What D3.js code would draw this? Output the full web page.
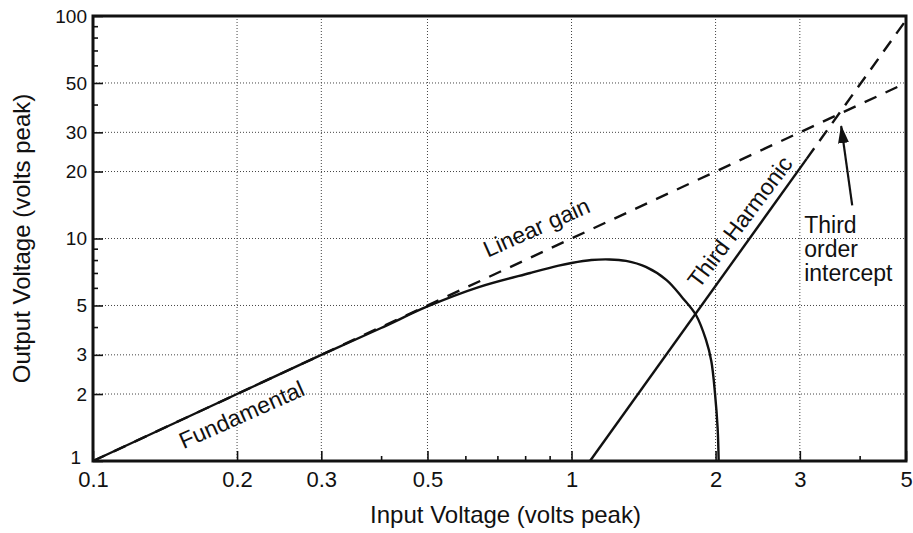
<!DOCTYPE html>
<html>
<head>
<meta charset="utf-8">
<script src="https://cdn.jsdelivr.net/npm/d3@7"></script>
<style>
  body { margin: 0; background: #fff; }
  text { font-family: "Liberation Sans", Arial, Helvetica, sans-serif; fill: #111; }
</style>
</head>
<body>
<div id="chart"></div>
<script>

// tick values and labels
var xTicks = [0.1, 0.2, 0.3, 0.5, 1, 2, 3, 5];
var xTickLabels = ["0.1", "0.2", "0.3", "0.5", "1", "2", "3", "5"];
var yTicks = [1, 2, 3, 5, 10, 20, 30, 50, 100];
var yTickLabels = ["1", "2", "3", "5", "10", "20", "30", "50", "100"];
var xMinor = [0.4, 0.6, 0.7, 0.8, 0.9, 4];
var yMinor = [4, 6, 7, 8, 9, 40, 60, 70, 80, 90];
var xGrid = [0.2, 0.3, 0.5, 1, 2, 3];
var yGrid = [2, 3, 5, 10, 20, 30, 50];

// series
var linearX = [0.1, 5];
var linearY = [1, 50];
var fundX = [0.1, 0.2, 0.3, 0.4, 0.5, 0.64, 0.82, 0.94, 1.0, 1.1, 1.2, 1.3, 1.43, 1.58, 1.7, 1.82, 1.91, 1.96, 1.995, 2.02, 2.03];
var fundY = [1, 2, 3, 3.96, 4.95, 6.05, 7.0, 7.55, 7.76, 8.0, 8.05, 7.93, 7.45, 6.5, 5.46, 4.53, 3.5, 2.8, 2.0, 1.4, 1.0];
var harmSolidX = [1.093, 3.1];
var harmSolidY = [1, 22.8];
var harmDashX = [3.1, 5];
var harmDashY = [22.8, 95.8];

// set the dimensions and margins of the graph
var margin = {top: 16, right: 7, bottom: 72, left: 93},
    width = 913 - margin.left - margin.right,
    height = 533 - margin.top - margin.bottom;

var svg = d3.select("#chart")
  .append("svg")
    .attr("width", width + margin.left + margin.right)
    .attr("height", height + margin.top + margin.bottom)
  .append("g")
    .attr("transform", "translate(" + margin.left + "," + margin.top + ")");

var x = d3.scaleLog().domain([0.1, 5]).range([0, width]);
var y = d3.scaleLog().domain([1, 100]).range([height, 0]);

// dotted grid
svg.append("g").selectAll("line")
  .data(xGrid).enter().append("line")
    .attr("x1", function(d) { return x(d); })
    .attr("x2", function(d) { return x(d); })
    .attr("y1", 0).attr("y2", height)
    .style("stroke", "#444").style("stroke-width", 1).style("stroke-dasharray", "1,2");
svg.append("g").selectAll("line")
  .data(yGrid).enter().append("line")
    .attr("y1", function(d) { return y(d); })
    .attr("y2", function(d) { return y(d); })
    .attr("x1", 0).attr("x2", width)
    .style("stroke", "#444").style("stroke-width", 1).style("stroke-dasharray", "1,2");

// axes (ticks point inward)
var xAxis = svg.append("g")
  .attr("transform", "translate(0," + height + ")")
  .call(d3.axisBottom(x).tickValues(xTicks).tickSize(-10).tickPadding(10)
    .tickFormat(function(d, i) { return xTickLabels[i]; }));
xAxis.selectAll("text").style("font-size", "22px");

var yAxis = svg.append("g")
  .call(d3.axisLeft(y).tickValues(yTicks).tickSize(-10).tickPadding(6)
    .tickFormat(function(d, i) { return yTickLabels[i]; }));
yAxis.selectAll("text").style("font-size", "19px");
// lowest label sits a little up and left, clear of "0.1"
yAxis.selectAll("text").filter(function(d) { return d == 1; })
  .attr("x", -12).attr("dy", "0.12em");

svg.append("g")
  .attr("transform", "translate(0," + height + ")")
  .call(d3.axisBottom(x).tickValues(xMinor).tickSize(-5).tickFormat(""));
svg.append("g")
  .call(d3.axisLeft(y).tickValues(yMinor).tickSize(-5).tickFormat(""));

svg.selectAll(".domain").remove();
svg.selectAll(".tick line").style("stroke", "#111").style("stroke-width", 1.6);

// series
var line = d3.line()
  .x(function(d) { return x(d[0]); })
  .y(function(d) { return y(d[1]); });

svg.append("path")
  .datum(d3.zip(linearX, linearY))
  .attr("d", line)
  .style("fill", "none").style("stroke", "#111").style("stroke-width", 2.4)
  .style("stroke-dasharray", "13,10");

svg.append("path")
  .datum(d3.zip(fundX, fundY))
  .attr("d", line.curve(d3.curveCatmullRom.alpha(0.5)))
  .style("fill", "none").style("stroke", "#111").style("stroke-width", 2.4);
line.curve(d3.curveLinear);

svg.append("path")
  .datum(d3.zip(harmSolidX, harmSolidY))
  .attr("d", line)
  .style("fill", "none").style("stroke", "#111").style("stroke-width", 2.4);

svg.append("path")
  .datum(d3.zip(harmDashX, harmDashY))
  .attr("d", line)
  .style("fill", "none").style("stroke", "#111").style("stroke-width", 2.4)
  .style("stroke-dasharray", "13,9");

// frame
svg.append("rect")
  .attr("x", 0).attr("y", 0)
  .attr("width", width).attr("height", height)
  .style("fill", "none").style("stroke", "#111").style("stroke-width", 3);

// curve labels
var labels = [
  {text: "Linear gain", x: 0.858, y: 10.4, angle: -24},
  {text: "Fundamental", x: 0.2076, y: 1.497, angle: -24},
  {text: "Third Harmonic", x: 2.32, y: 11.3, angle: -53}
];
svg.append("g").selectAll("text")
  .data(labels).enter().append("text")
    .attr("transform", function(d) { return "translate(" + x(d.x) + "," + y(d.y) + ") rotate(" + d.angle + ")"; })
    .attr("text-anchor", "middle")
    .style("font-size", "23px")
    .text(function(d) { return d.text; });

var note = svg.append("text")
  .attr("x", x(3.064)).attr("y", y(10.59))
  .style("font-size", "23px");
["Third", "order", "intercept"].forEach(function(t, i) {
  note.append("tspan").attr("x", x(3.064)).attr("dy", i == 0 ? 0 : 24).text(t);
});

// arrow to the intercept
svg.append("defs").append("marker")
  .attr("id", "head")
  .attr("viewBox", "0 0 18 11")
  .attr("refX", 17).attr("refY", 5.5)
  .attr("markerWidth", 18).attr("markerHeight", 11)
  .attr("markerUnits", "userSpaceOnUse")
  .attr("orient", "auto")
  .append("path").attr("d", "M0,0 L18,5.5 L0,11 Z").style("fill", "#111");

svg.append("line")
  .attr("x1", x(3.86)).attr("y1", y(14.1))
  .attr("x2", x(3.66)).attr("y2", y(32))
  .style("stroke", "#111").style("stroke-width", 2.2)
  .attr("marker-end", "url(#head)");

// axis titles
svg.append("text")
  .attr("x", width / 2 + 6).attr("y", height + 62)
  .attr("text-anchor", "middle")
  .style("font-size", "24px")
  .text("Input Voltage (volts peak)");

svg.append("text")
  .attr("transform", "translate(" + (30 - margin.left) + "," + (height / 2) + ") rotate(-90)")
  .attr("text-anchor", "middle")
  .style("font-size", "24px")
  .text("Output Voltage (volts peak)");

</script>
</body>
</html>
